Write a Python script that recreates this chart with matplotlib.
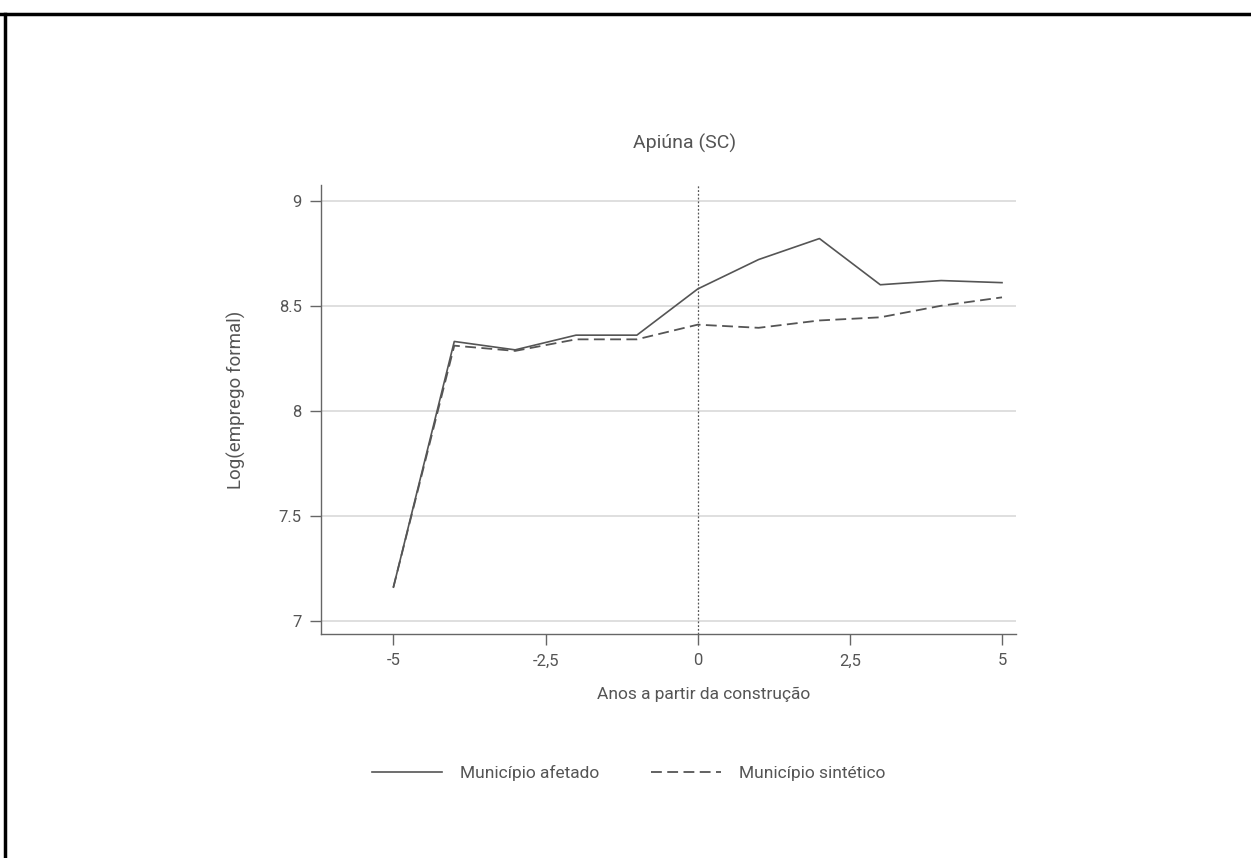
import matplotlib
matplotlib.use("Agg")
import matplotlib.pyplot as plt
from matplotlib.lines import Line2D

plt.rcParams['font.family'] = ['Roboto', 'DejaVu Sans']

anos = [-5, -4, -3, -2, -1, 0, 1, 2, 3, 4, 5]
afetado = [7.16, 8.33, 8.29, 8.36, 8.36, 8.58, 8.72, 8.82, 8.60, 8.62, 8.61]
sintetico = [7.16, 8.31, 8.285, 8.34, 8.34, 8.41, 8.395, 8.43, 8.445, 8.50, 8.54]
xticks = [-5, -2.5, 0, 2.5, 5]
xticklabels = ["-5", "-2,5", "0", "2,5", "5"]
yticks = [7, 7.5, 8, 8.5, 9]
yticklabels = ["7", "7.5", "8", "8.5", "9"]

W, H = 1251, 858
fig = plt.figure(figsize=(W / 100, H / 100), dpi=100)

txt = "#555555"
ax = fig.add_axes([321 / W, 1 - 634 / H, (1016 - 321) / W, (634 - 185) / H])
ax.set_xlim(-6.19, 5.23)
ax.set_ylim(6.937, 9.075)

for s in ["top", "right"]:
    ax.spines[s].set_visible(False)
for s in ["left", "bottom"]:
    ax.spines[s].set_color("#666666")
    ax.spines[s].set_linewidth(1.0)

ax.set_yticks(yticks)
ax.set_yticklabels(yticklabels)
ax.set_xticks(xticks)
ax.set_xticklabels(xticklabels)
ax.tick_params(axis="both", direction="out", length=8, width=1.0, color="#666666",
               labelcolor=txt, labelsize=12, pad=6)
ax.grid(axis="y", color="#d9d9d9", linewidth=1.2)
ax.set_axisbelow(True)

ax.axvline(0, color="#555555", linestyle=(0, (1.5, 1.5)), linewidth=0.9)

ax.plot(anos, afetado, color="#555555", linewidth=1.2, label="Município afetado")
ax.plot(anos, sintetico, color="#555555", linewidth=1.3, dashes=(6, 3),
        label="Município sintético")

fig.text(704 / W, 1 - 694 / H, "Anos a partir da construção", ha="center",
         va="center", color=txt, fontsize=12.5)
fig.text(236 / W, 1 - 400 / H, "Log(emprego formal)", ha="center",
         va="center", rotation=90, color=txt, fontsize=13.5)

fig.text(685 / W, 1 - 143 / H, "Apiúna (SC)", ha="center", va="center",
         color=txt, fontsize=14)

handles = [Line2D([], [], color="#555555", linewidth=1.2),
           Line2D([], [], color="#555555", linewidth=1.3, dashes=(6, 3))]
fig.legend(handles, ["Município afetado", "Município sintético"],
           loc="center", bbox_to_anchor=(629 / W, 1 - 773 / H), ncol=2,
           frameon=False, fontsize=12.5, handlelength=4.0, columnspacing=3.0,
           handletextpad=1.05, labelcolor=txt)

# outer frame (top and left edges)
fig.add_artist(Line2D([0, 1], [1 - 13.5 / H, 1 - 13.5 / H], color="black",
                      linewidth=2.5, transform=fig.transFigure))
fig.add_artist(Line2D([4.5 / W, 4.5 / W], [0, 1 - 13.5 / H], color="black",
                      linewidth=2.5, transform=fig.transFigure))

fig.savefig("out.png", dpi=100)
